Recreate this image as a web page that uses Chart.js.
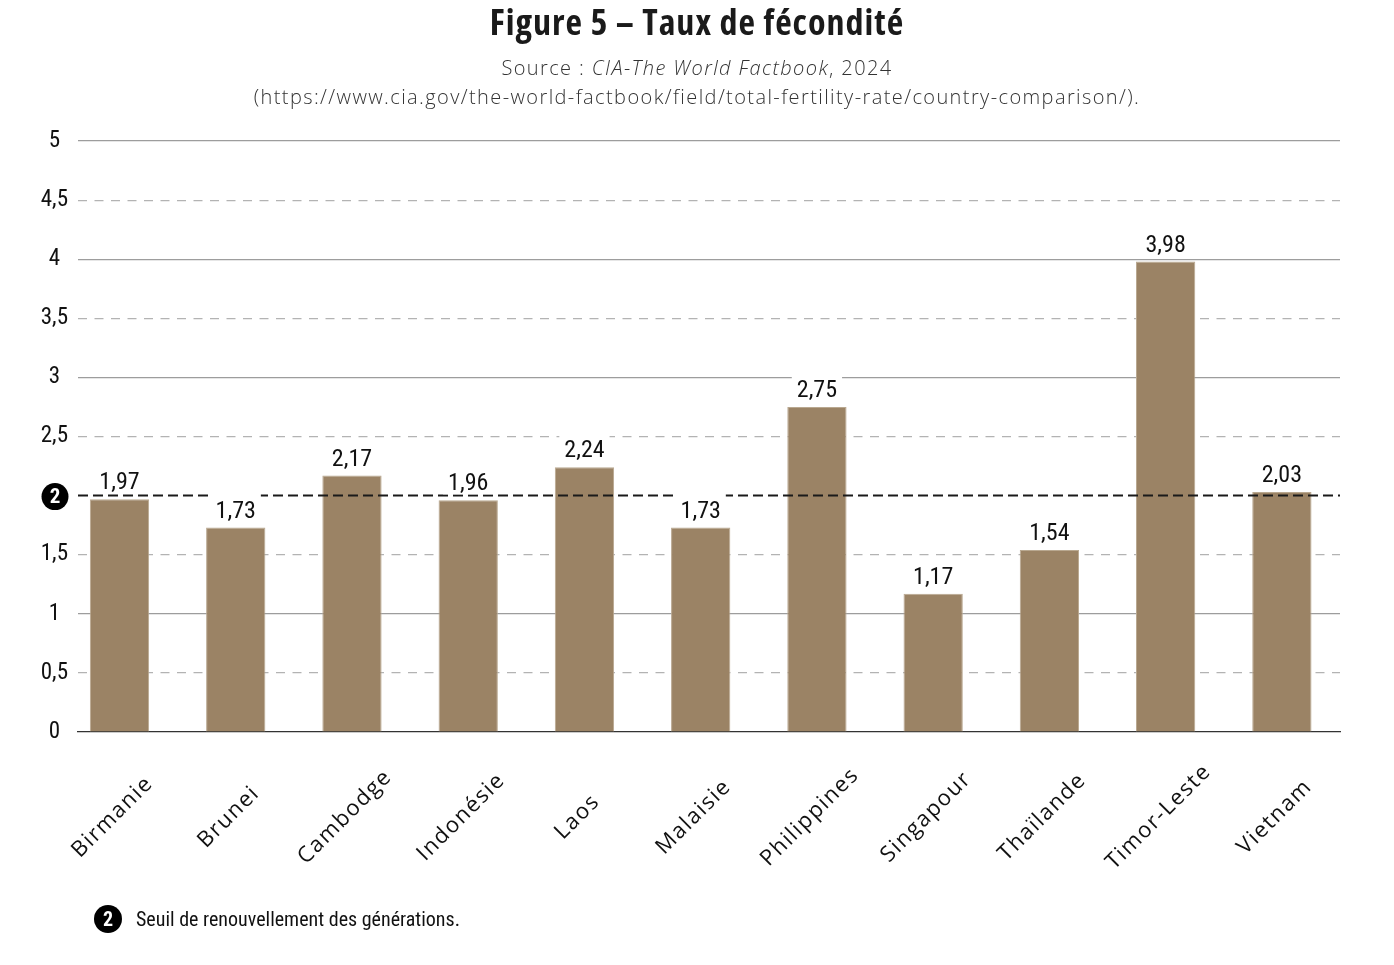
<!DOCTYPE html>
<html>
<head>
<meta charset="utf-8">
<script src="https://cdn.jsdelivr.net/npm/chart.js@4.4.1/dist/chart.umd.min.js"></script>
<style>
  html, body { margin: 0; padding: 0; background: #fff; }
  body { width: 1394px; height: 965px; position: relative; overflow: hidden; }
  #wrap { position: absolute; left: 0; top: 0; width: 1394px; height: 965px; }
  #title { position: absolute; left: 0; top: 1px; width: 1394px; text-align: center;
    font-family: "Open Sans", sans-serif; font-stretch: 75%; letter-spacing: 1px;
    font-weight: 700; font-size: 36px; line-height: 42px; color: #1a1a1a; }
  #sub { position: absolute; left: 0; top: 53px; width: 1394px; text-align: center;
    font-family: "Open Sans", sans-serif; font-weight: 300; font-size: 20px; letter-spacing: 1.4px; line-height: 29px; color: #333; }
  #note { position: absolute; left: 94px; top: 905px; font-family: "Roboto Condensed", sans-serif;
    font-size: 20px; color: #111; display: flex; align-items: center; }
  #note .dot { width: 28px; height: 28px; border-radius: 50%; background: #000; color: #fff; font-weight: bold;
    font-size: 20px; display: inline-flex; align-items: center; justify-content: center; margin-right: 14px; }
</style>
</head>
<body>
<div id="wrap"><canvas id="c" width="1394" height="965"></canvas></div>
<div id="title">Figure 5 – Taux de fécondité</div>
<div id="sub">Source : <i>CIA-The World Factbook</i>, 2024<br>(https://www.cia.gov/the-world-factbook/field/total-fertility-rate/country-comparison/).</div>
<div id="note"><span class="dot">2</span>Seuil de renouvellement des générations.</div>
<script>
// ---- data ----
const categories = ['Birmanie', 'Brunei', 'Cambodge', 'Indonésie', 'Laos', 'Malaisie', 'Philippines', 'Singapour', 'Thaïlande', 'Timor-Leste', 'Vietnam'];
const fertility = [1.97, 1.73, 2.17, 1.96, 2.24, 1.73, 2.75, 1.17, 1.54, 3.98, 2.03];
const yTickValues = [0, 0.5, 1, 1.5, 2, 2.5, 3, 3.5, 4, 4.5, 5];
const yTickLabels = ['0', '0,5', '1', '1,5', '2', '2,5', '3', '3,5', '4', '4,5', '5'];
const threshold = 2;
const thresholdLabel = '2';

const condFont = '"Roboto Condensed", sans-serif';
const barColor = '#9b8365';

const valueLabels = {
  id: 'valueLabels',
  afterDatasetsDraw(chart) {
    const { ctx, chartArea } = chart;
    const yS = chart.scales.y;
    const yT = yS.getPixelForValue(threshold);
    // threshold line
    ctx.save();
    ctx.strokeStyle = '#1a1a1a';
    ctx.lineWidth = 2;
    ctx.setLineDash([10, 5]);
    ctx.beginPath();
    ctx.moveTo(chartArea.left, yT);
    ctx.lineTo(chartArea.right, yT);
    ctx.stroke();
    ctx.restore();
    // value labels with white box
    const meta = chart.getDatasetMeta(0);
    ctx.save();
    ctx.font = '24px ' + condFont;
    ctx.textAlign = 'center';
    ctx.textBaseline = 'alphabetic';
    meta.data.forEach((bar, i) => {
      const txt = fertility[i].toFixed(2).replace('.', ',');
      const w = ctx.measureText(txt).width;
      const base = bar.y - 10;
      ctx.fillStyle = '#fff';
      ctx.fillRect(bar.x - w / 2 - 5, base - 24, w + 10, 28);
      ctx.fillStyle = '#111';
      ctx.fillText(txt, bar.x, base);
    });
    ctx.restore();
  },
  afterDraw(chart) {
    const { ctx } = chart;
    const xS = chart.scales.x, yS = chart.scales.y;
    // x category labels rotated about their centre
    ctx.save();
    ctx.font = '22px "Open Sans", sans-serif';
    ctx.letterSpacing = '1.5px';
    ctx.fillStyle = '#111';
    ctx.textAlign = 'center';
    ctx.textBaseline = 'middle';
    categories.forEach((c, i) => {
      const x = xS.getPixelForValue(i) - 7;
      const y = xS.bottom + 85;
      ctx.save();
      ctx.translate(x, y);
      ctx.rotate(-Math.PI / 4);
      ctx.fillText(c, 0, 0);
      ctx.restore();
    });
    ctx.restore();
    // threshold badge on y axis
    const yT = yS.getPixelForValue(threshold);
    ctx.save();
    ctx.fillStyle = '#000';
    ctx.beginPath();
    ctx.arc(55, yT + 1, 13.5, 0, Math.PI * 2);
    ctx.fill();
    ctx.fillStyle = '#fff';
    ctx.font = 'bold 21px ' + condFont;
    ctx.textAlign = 'center';
    ctx.textBaseline = 'middle';
    ctx.fillText(thresholdLabel, 55, yT + 2);
    ctx.restore();
  }
};

new Chart(document.getElementById('c'), {
  type: 'bar',
  data: {
    datasets: [{
      data: fertility.map((v, i) => ({ x: i, y: v })),
      backgroundColor: barColor,
      borderColor: '#b9a890',
      borderWidth: 1,
      categoryPercentage: 1,
      barPercentage: 0.51
    }]
  },
  options: {
    responsive: false,
    animation: false,
    devicePixelRatio: 1,
    layout: { padding: { left: 18, right: 54, top: 141, bottom: 233 } },
    plugins: { legend: { display: false }, tooltip: { enabled: false }, title: { display: false } },
    scales: {
      x: {
        type: 'linear', min: -0.357, max: 10.5, offset: false,
        afterBuildTicks(s) { s.ticks = categories.map((c, i) => ({ value: i })); },
        grid: { display: false, drawTicks: false },
        border: { display: true, color: '#333', width: 1.2 },
        ticks: { display: false },
        afterFit(s) { s.height = 0; }
      },
      y: {
        type: 'linear', min: 0, max: 5, position: 'left',
        afterBuildTicks(s) { s.ticks = yTickValues.map(v => ({ value: v })); },
        afterFit(s) { s.width = 60; },
        border: { display: false },
        grid: {
          drawTicks: false,
          lineWidth: 1.2,
          color: (ctx) => {
            const v = ctx.tick ? ctx.tick.value : null;
            if (v === null || v === 0 || v === threshold) return 'rgba(0,0,0,0)';
            return Number.isInteger(v) ? '#9d9d9d' : 'rgba(0,0,0,0)';
          }
        },
        ticks: {
          padding: 10,
          crossAlign: 'center',
          color: '#111',
          font: { family: condFont, size: 23 },
          callback: (v) => { const i = yTickValues.indexOf(v); return (i < 0 || v === threshold) ? '' : yTickLabels[i]; }
        }
      },
      y2: {
        type: 'linear', min: 0, max: 5, position: 'right',
        afterBuildTicks(s) { s.ticks = yTickValues.filter(v => !Number.isInteger(v)).map(v => ({ value: v })); },
        afterFit(s) { s.width = 0; },
        border: { display: false, dash: [9, 7.5] },
        grid: { drawTicks: false, lineWidth: 1.2, color: '#b3b3b3' },
        ticks: { display: false }
      }
    }
  },
  plugins: [valueLabels]
});
</script>
</body>
</html>
